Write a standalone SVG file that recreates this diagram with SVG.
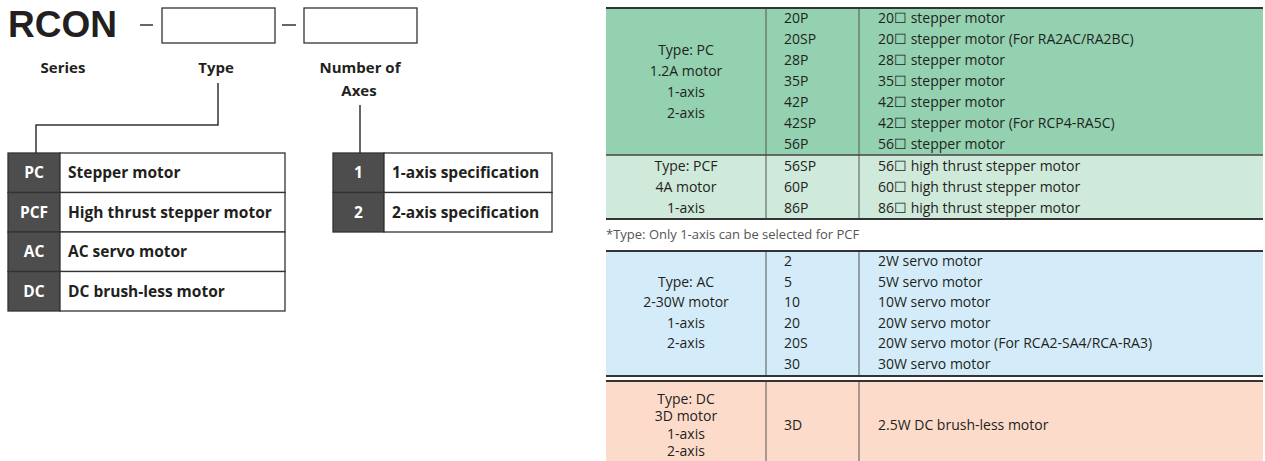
<svg xmlns="http://www.w3.org/2000/svg" width="1265" height="461" viewBox="0 0 1265 461">
<style>
text{font-family:"Open Sans","Noto Sans","Liberation Sans",sans-serif;fill:#231f20}
.rcon{font-family:"Liberation Sans",Arial,sans-serif;font-weight:bold;font-size:37px}
.hd{font-size:15px;font-weight:bold;text-anchor:middle}
.lt{font-size:15.5px;font-weight:bold}
.code{font-size:15.5px;font-weight:bold;fill:#fff;text-anchor:middle}
.t{font-size:14px}
.c{font-size:14px;text-anchor:middle}
.note{font-size:13px;fill:#555}
.box{fill:#fff;stroke:#333;stroke-width:1.3}
.dark{fill:#4d4d4d;stroke:#333;stroke-width:1.3}
.cell{fill:#fff;stroke:#333;stroke-width:1.3}
.ln{stroke:#333;stroke-width:1.5;fill:none}
.sep{stroke:#555;stroke-width:1}
.hr{stroke:#333;stroke-width:2}
</style>
<g id="title">
<text x="8" y="37" class="rcon">RCON</text>
<line class="ln" x1="140" y1="25" x2="153" y2="25"/>
<rect class="box" x="162" y="8" width="113" height="35"/>
<line class="ln" x1="282" y1="25" x2="296" y2="25"/>
<rect class="box" x="304" y="8" width="113" height="35"/>
<text class="hd" x="63" y="73">Series</text>
<text class="hd" x="216" y="73">Type</text>
<text class="hd" x="360" y="73">Number of</text>
<text class="hd" x="359" y="96">Axes</text>
</g>
<g id="connectors">
<polyline class="ln" points="218,83 218,125 36,125 36,153"/>
<line class="ln" x1="360" y1="105" x2="360" y2="153"/>
</g>
<g id="type-table">
<rect class="dark" x="8" y="153" width="52" height="39.5"/>
<rect class="cell" x="60" y="153" width="225" height="39.5"/>
<rect class="dark" x="8" y="192.5" width="52" height="39.5"/>
<rect class="cell" x="60" y="192.5" width="225" height="39.5"/>
<rect class="dark" x="8" y="232" width="52" height="39.5"/>
<rect class="cell" x="60" y="232" width="225" height="39.5"/>
<rect class="dark" x="8" y="271.5" width="52" height="39.5"/>
<rect class="cell" x="60" y="271.5" width="225" height="39.5"/>
<text class="code" x="34" y="178">PC</text>
<text class="lt" x="68" y="178">Stepper motor</text>
<text class="code" x="34" y="217.5">PCF</text>
<text class="lt" x="68" y="217.5">High thrust stepper motor</text>
<text class="code" x="34" y="257">AC</text>
<text class="lt" x="68" y="257">AC servo motor</text>
<text class="code" x="34" y="296.5">DC</text>
<text class="lt" x="68" y="296.5">DC brush-less motor</text>
</g>
<g id="axes-table">
<rect class="dark" x="333" y="153" width="51" height="39.5"/>
<rect class="cell" x="384" y="153" width="168" height="39.5"/>
<rect class="dark" x="333" y="192.5" width="51" height="39.5"/>
<rect class="cell" x="384" y="192.5" width="168" height="39.5"/>
<text class="code" x="358.5" y="178">1</text>
<text class="lt" x="392" y="178">1-axis specification</text>
<text class="code" x="358.5" y="217.5">2</text>
<text class="lt" x="392" y="217.5">2-axis specification</text>
</g>
<g id="pc-section">
<rect x="606" y="8" width="657" height="147" fill="#93d1b0"/>
<text class="c" x="686" y="55.3">Type: PC</text>
<text class="c" x="686" y="76.3">1.2A motor</text>
<text class="c" x="686" y="97.3">1-axis</text>
<text class="c" x="686" y="118.3">2-axis</text>
<text class="t" x="784" y="23.3">20P</text>
<text class="t" x="784" y="44.3">20SP</text>
<text class="t" x="784" y="65.3">28P</text>
<text class="t" x="784" y="86.3">35P</text>
<text class="t" x="784" y="107.3">42P</text>
<text class="t" x="784" y="128.3">42SP</text>
<text class="t" x="784" y="149.3">56P</text>
<text class="t" x="878" y="23.3">20☐ stepper motor</text>
<text class="t" x="878" y="44.3">20☐ stepper motor (For RA2AC/RA2BC)</text>
<text class="t" x="878" y="65.3">28☐ stepper motor</text>
<text class="t" x="878" y="86.3">35☐ stepper motor</text>
<text class="t" x="878" y="107.3">42☐ stepper motor</text>
<text class="t" x="878" y="128.3">42☐ stepper motor (For RCP4-RA5C)</text>
<text class="t" x="878" y="149.3">56☐ stepper motor</text>
</g>
<g id="pcf-section">
<rect x="606" y="155" width="657" height="64" fill="#cfe9da"/>
<text class="c" x="686" y="170.8">Type: PCF</text>
<text class="c" x="686" y="191.8">4A motor</text>
<text class="c" x="686" y="212.8">1-axis</text>
<text class="t" x="784" y="170.8">56SP</text>
<text class="t" x="784" y="191.8">60P</text>
<text class="t" x="784" y="212.8">86P</text>
<text class="t" x="878" y="170.8">56☐ high thrust stepper motor</text>
<text class="t" x="878" y="191.8">60☐ high thrust stepper motor</text>
<text class="t" x="878" y="212.8">86☐ high thrust stepper motor</text>
</g>
<g id="note">
<text class="note" x="606" y="239">*Type: Only 1-axis can be selected for PCF</text>
</g>
<g id="ac-section">
<rect x="606" y="251" width="657" height="125" fill="#d4ecf9"/>
<text class="c" x="686" y="286.8">Type: AC</text>
<text class="c" x="686" y="307.3">2-30W motor</text>
<text class="c" x="686" y="327.8">1-axis</text>
<text class="c" x="686" y="348.3">2-axis</text>
<text class="t" x="784" y="266.3">2</text>
<text class="t" x="784" y="286.8">5</text>
<text class="t" x="784" y="307.3">10</text>
<text class="t" x="784" y="327.8">20</text>
<text class="t" x="784" y="348.3">20S</text>
<text class="t" x="784" y="368.8">30</text>
<text class="t" x="878" y="266.3">2W servo motor</text>
<text class="t" x="878" y="286.8">5W servo motor</text>
<text class="t" x="878" y="307.3">10W servo motor</text>
<text class="t" x="878" y="327.8">20W servo motor</text>
<text class="t" x="878" y="348.3">20W servo motor (For RCA2-SA4/RCA-RA3)</text>
<text class="t" x="878" y="368.8">30W servo motor</text>
</g>
<g id="dc-section">
<rect x="606" y="381" width="657" height="80" fill="#fddbcb"/>
<text class="c" x="686" y="403.8">Type: DC</text>
<text class="c" x="686" y="421.3">3D motor</text>
<text class="c" x="686" y="438.8">1-axis</text>
<text class="c" x="686" y="456.3">2-axis</text>
<text class="t" x="784" y="429.8">3D</text>
<text class="t" x="878" y="429.8">2.5W DC brush-less motor</text>
</g>
<g id="table-lines">
<line class="sep" x1="766" y1="8" x2="766" y2="219"/>
<line class="sep" x1="859" y1="8" x2="859" y2="219"/>
<line class="sep" x1="766" y1="251" x2="766" y2="376"/>
<line class="sep" x1="859" y1="251" x2="859" y2="376"/>
<line class="sep" x1="766" y1="381" x2="766" y2="461"/>
<line class="sep" x1="859" y1="381" x2="859" y2="461"/>
<line class="hr" x1="606" y1="8" x2="1263" y2="8"/>
<line stroke="#444" stroke-width="1.5" x1="606" y1="155" x2="1263" y2="155"/>
<line class="hr" x1="606" y1="219" x2="1263" y2="219"/>
<line class="hr" x1="606" y1="251" x2="1263" y2="251"/>
<line class="hr" x1="606" y1="376" x2="1263" y2="376"/>
<line class="hr" x1="606" y1="381" x2="1263" y2="381"/>
</g>
</svg>
